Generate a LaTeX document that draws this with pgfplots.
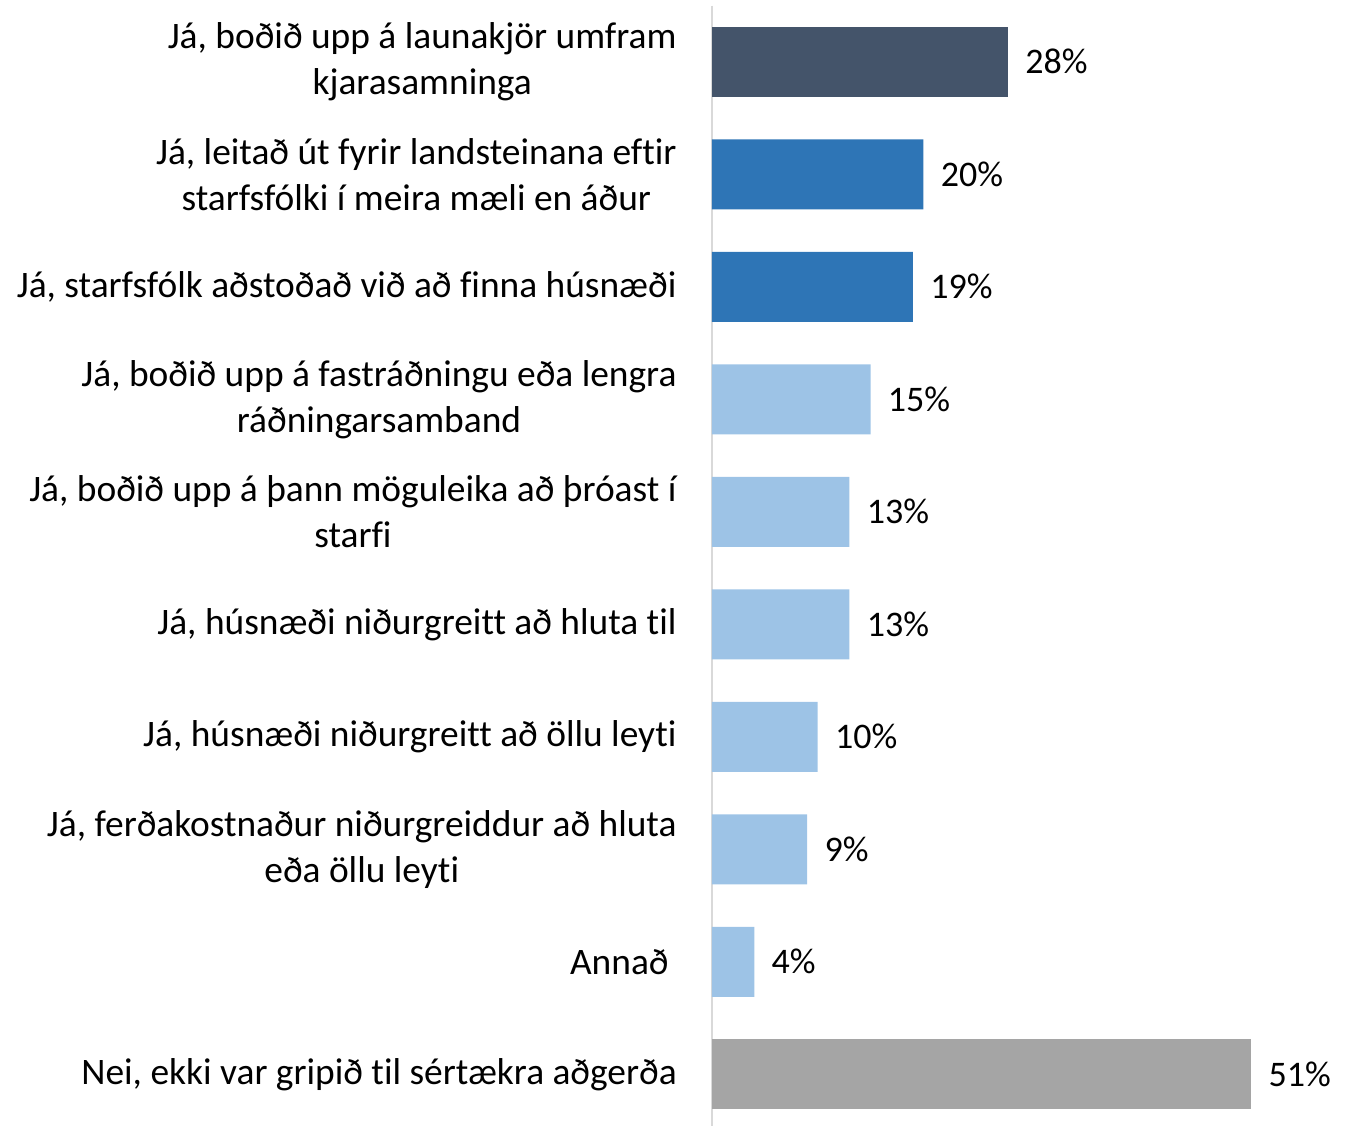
\documentclass[border=0pt]{standalone}
\usepackage{fontspec}
\setmainfont{Carlito}[Ligatures=NoCommon]
\usepackage{pgfplots}
\pgfplotsset{compat=1.18}
\definecolor{slate}{HTML}{44546A}
\definecolor{midblue}{HTML}{2E75B6}
\definecolor{lightblue}{HTML}{9DC3E6}
\definecolor{midgray}{HTML}{A5A5A5}
\definecolor{axisgray}{HTML}{D9D9D9}

\begin{document}
\begin{tikzpicture}[font=\fontsize{18}{22.5}\selectfont]
\begin{axis}[
  xbar,
  bar width=35pt,
  bar shift=0pt,
  x=5.286pt, y=56.25pt,
  xmin=0, xmax=60,
  ymin=0.5, ymax=10.5,
  y dir=reverse,
  axis x line=none,
  axis y line*=left,
  y axis line style={axisgray, line width=1pt},
  major tick length=0pt,
  ytick={1,...,10},
  yticklabels={
    {Já, boðið upp á launakjör umfram\\kjarasamninga},
    {Já, leitað út fyrir landsteinana eftir\\starfsfólki í meira mæli en áður},
    {Já, starfsfólk aðstoðað við að finna húsnæði},
    {Já, boðið upp á fastráðningu eða lengra\\ráðningarsamband},
    {Já, boðið upp á þann möguleika að þróast í\\starfi},
    {Já, húsnæði niðurgreitt að hluta til},
    {Já, húsnæði niðurgreitt að öllu leyti},
    {Já, ferðakostnaður niðurgreiddur að hluta\\eða öllu leyti},
    {Annað\hspace*{4pt}},
    {Nei, ekki var gripið til sértækra aðgerða}},
  yticklabel style={align=center, anchor=east, inner sep=0pt, xshift=-17.5pt,
    font=\fontsize{18.7}{23}\selectfont},
  point meta=x,
  nodes near coords={\pgfmathprintnumber[assume math mode=true]{\pgfplotspointmeta}\%},
  every node near coord/.append style={anchor=west, inner sep=0pt, xshift=8.5pt,
    font=\fontsize{18}{22.5}\selectfont, black},
  clip=false,
]
\addplot[fill=slate, draw=none] coordinates {(28,1)};
\addplot[fill=midblue, draw=none] coordinates {(20,2) (19,3)};
\addplot[fill=lightblue, draw=none] coordinates {(15,4) (13,5) (13,6) (10,7) (9,8) (4,9)};
\addplot[fill=midgray, draw=none] coordinates {(51,10)};
\coordinate (A) at (rel axis cs:0,0);
\coordinate (B) at (rel axis cs:0,1);
\end{axis}
\pgfresetboundingbox
\path[use as bounding box] ([xshift=-356pt, yshift=2.8pt]A) rectangle ([xshift=318pt, yshift=2.8pt]B);
\end{tikzpicture}
\end{document}
